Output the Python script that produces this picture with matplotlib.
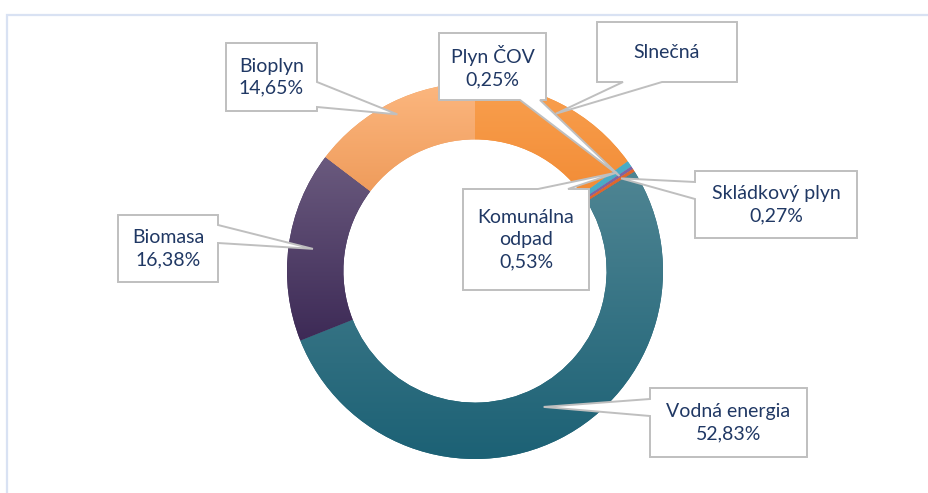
import numpy as np
import matplotlib.pyplot as plt
from matplotlib.colors import LinearSegmentedColormap
from matplotlib.patches import Polygon

# data, clockwise from 12 o'clock
labels = ["Slnečná", "Komunálna\nodpad", "Plyn ČOV", "Skládkový plyn",
          "Vodná energia", "Biomasa", "Bioplyn"]
values = [15.09, 0.53, 0.25, 0.27, 52.83, 16.38, 14.65]
show_pct = [False, True, True, True, True, True, True]

# gradient colours per slice (top, bottom)
colours = [("#f9a04f", "#f28c36"), ("#4bacc6", "#4bacc6"), ("#8064a2", "#8064a2"),
           ("#e0662d", "#e0662d"), ("#4f8593", "#1c6175"), ("#6a5a7e", "#3d2a56"),
           ("#fcb77f", "#ef9c5c")]

W, H = 929, 493
CX, CY, R = 475, 271, 188
TEXT = "#203864"
EDGE = "#bfbfbf"

# label box layout in pixels: (x0, y0, x1, y1), side with pointer, pointer base, tip radius
layout = [
    ((597, 22, 737, 82), "bottom", (623, 662), 0.94),
    ((463, 189, 589, 290), "top", (538, 568), 0.92),
    ((439, 33, 546, 100), "bottom", (520, 540), 0.92),
    ((695, 171, 857, 238), "left", (182, 199), 0.92),
    ((650, 388, 807, 457), "left", (399, 416), 0.81),
    ((118, 215, 218, 282), "right", (225, 243), 0.87),
    ((226, 43, 317, 111), "right", (82, 107), 0.93),
]

plt.rcParams["font.family"] = ["Lato", "DejaVu Sans"]

fig = plt.figure(figsize=(W / 100, H / 100), dpi=100)
ax = fig.add_axes([0, 0, 1, 1])

wedges, _ = ax.pie(values, startangle=90, counterclock=False, radius=R,
                   center=(CX, H - CY), colors=[c[1] for c in colours],
                   wedgeprops=dict(width=R * 0.30, edgecolor="none"))

for w, (top, bottom) in zip(wedges, colours):
    bb = w.get_path().get_extents()
    cmap = LinearSegmentedColormap.from_list("g", [bottom, top])
    grad = np.linspace(0, 1, 256).reshape(-1, 1)
    im = ax.imshow(grad, cmap=cmap, origin="lower", aspect="auto",
                   extent=[bb.x0, bb.x1, bb.y0, bb.y1], zorder=2,
                   interpolation="bicubic")
    im.set_clip_path(w)


def callout(box, side, base, tip):
    x0, y0, x1, y1 = box
    b1, b2 = base
    if side == "top":
        pts = [(x0, y0), (b1, y0), tip, (b2, y0), (x1, y0), (x1, y1), (x0, y1)]
    elif side == "right":
        pts = [(x0, y0), (x1, y0), (x1, b1), tip, (x1, b2), (x1, y1), (x0, y1)]
    elif side == "bottom":
        pts = [(x0, y0), (x1, y0), (x1, y1), (b2, y1), tip, (b1, y1), (x0, y1)]
    else:
        pts = [(x0, y0), (x1, y0), (x1, y1), (x0, y1), (x0, b2), tip, (x0, b1)]
    return [(px, H - py) for px, py in pts]


for w, lab, val, sp, (box, side, base, rt) in zip(wedges, labels, values, show_pct, layout):
    ang = np.deg2rad((w.theta1 + w.theta2) / 2)
    tip = (CX + rt * R * np.cos(ang), CY - rt * R * np.sin(ang))
    poly = Polygon(callout(box, side, base, tip), closed=True, facecolor="white",
                   edgecolor=EDGE, lw=1.4, zorder=4, joinstyle="miter")
    ax.add_patch(poly)
    txt = lab + ("\n" + f"{val:.2f}".replace(".", ",") + "%" if sp else "")
    ax.text((box[0] + box[2]) / 2, H - (box[1] + box[3]) / 2, txt, ha="center",
            va="center", fontsize=14, color=TEXT, zorder=5, linespacing=1.35)

# chart area frame (partly visible)
ax.plot([7.5, 7.5, W], [0, H - 14.5, H - 14.5], color="#d9e2f3", lw=1.6, zorder=1,
        solid_joinstyle="miter")

ax.set_xlim(0, W)
ax.set_ylim(0, H)
ax.set_aspect("equal")
ax.axis("off")

fig.savefig("out.png", dpi=100)
